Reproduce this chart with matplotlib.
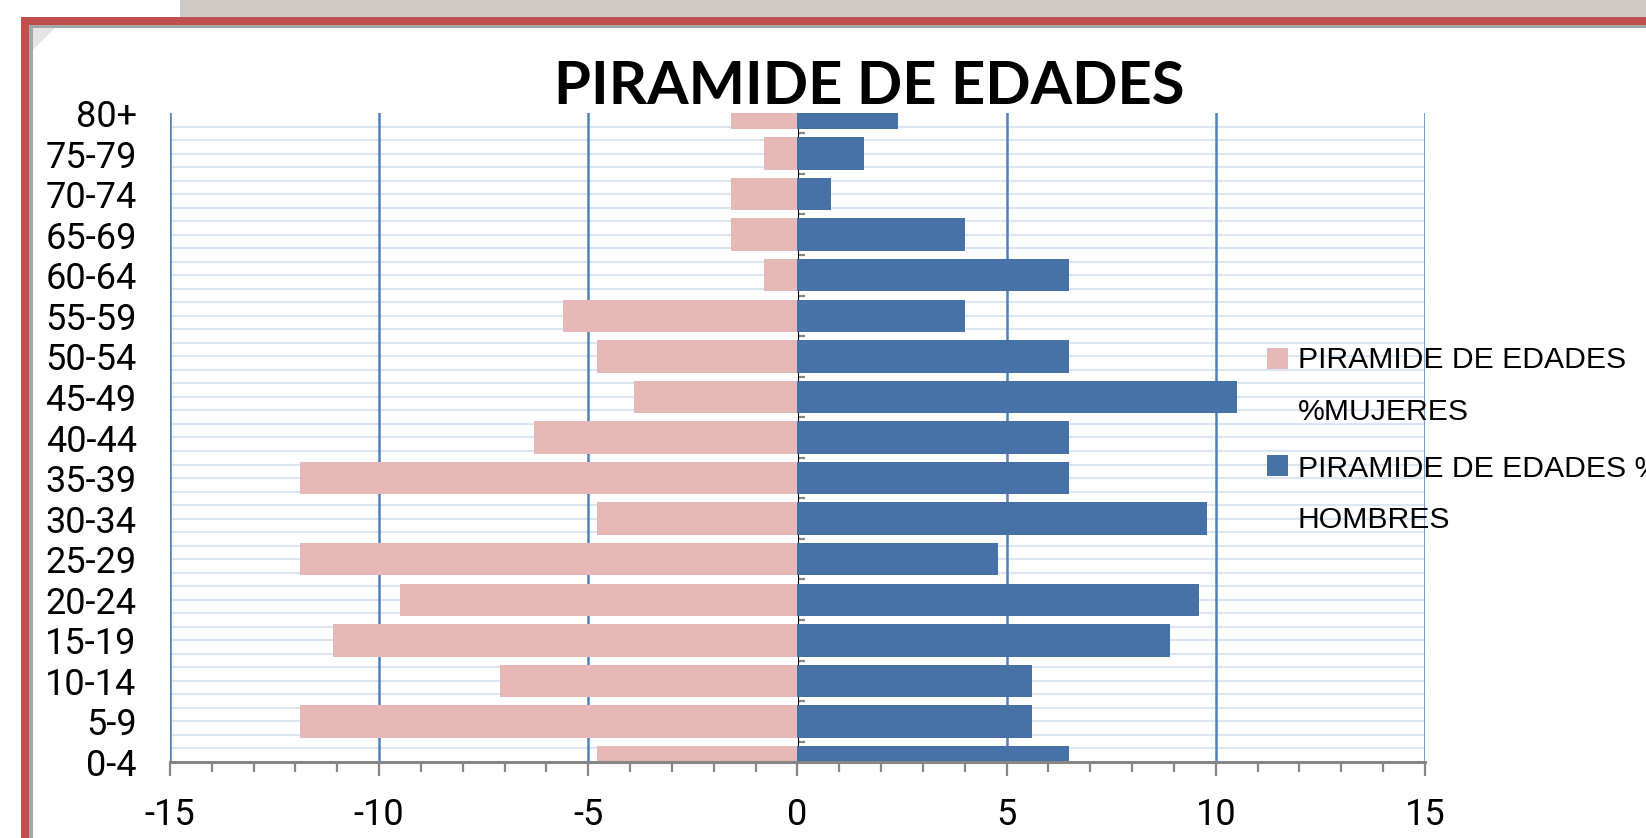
import matplotlib
matplotlib.use("Agg")
import matplotlib.pyplot as plt
from matplotlib.patches import Rectangle, Polygon
import numpy as np

# ---------------- data (bottom to top) ----------------
age_groups = ['0-4', '5-9', '10-14', '15-19', '20-24', '25-29', '30-34', '35-39',
              '40-44', '45-49', '50-54', '55-59', '60-64', '65-69', '70-74', '75-79', '80+']
mujeres = [4.8, 11.9, 7.1, 11.1, 9.5, 11.9, 4.8, 11.9, 6.3, 3.9, 4.8, 5.6, 0.8, 1.6, 1.6, 0.8, 1.6]
hombres = [6.5, 5.6, 5.6, 8.9, 9.6, 4.8, 9.8, 6.5, 6.5, 10.5, 6.5, 4.0, 6.5, 4.0, 0.8, 1.6, 2.4]
x_ticks = [-15, -10, -5, 0, 5, 10, 15]
x_tick_labels = ['-15', '-10', '-5', '0', '5', '10', '15']
title = 'PIRAMIDE DE EDADES'
legend_mujeres = ['PIRAMIDE DE EDADES', '%MUJERES']
legend_hombres = ['PIRAMIDE DE EDADES %', 'HOMBRES']

PINK = '#E6B8B7'
BLUE = '#4672A8'
GRID_V = '#4F81BD'
GRID_H = '#DCE6F2'
AXIS_GRAY = '#868686'
TICKFONT = ['Roboto', 'DejaVu Sans']
TITLEFONT = ['Lato', 'DejaVu Sans']
REG = ['Liberation Sans', 'DejaVu Sans']

W, H = 1646, 838
fig = plt.figure(figsize=(W / 100, H / 100), dpi=100)
fig.patch.set_facecolor('white')


def px_rect(x0, y0, w, h, color, z=0):
    fig.add_artist(Rectangle((x0 / W, 1 - (y0 + h) / H), w / W, h / H,
                             transform=fig.transFigure, facecolor=color,
                             edgecolor='none', zorder=z))


# frame decorations (screenshot border)
px_rect(180, 0, W - 180, 17, '#D0CBC6')
px_rect(21, 17, W - 21, 8, '#C0504D')
px_rect(21, 17, 8, H - 17, '#C0504D')
px_rect(29, 25, W - 29, 3, '#A6A6A6')
px_rect(29, 25, 4, H - 25, '#A6A6A6')
fig.add_artist(Polygon([(33 / W, 1 - 28 / H), (55 / W, 1 - 28 / H), (33 / W, 1 - 50 / H)],
                       closed=True, transform=fig.transFigure,
                       facecolor='#E4E4E4', edgecolor='none'))

left, right = 170, 1425
top, bottom = 113, 762
ax = fig.add_axes([left / W, 1 - bottom / H, (right - left) / W, (bottom - top) / H])
ax.set_facecolor('none')

y = np.arange(len(age_groups))
ax.barh(y, [-v for v in mujeres], height=0.8, color=PINK, zorder=3,
        label=' '.join(legend_mujeres))
ax.barh(y, hombres, height=0.8, color=BLUE, zorder=3,
        label=' '.join(legend_hombres))

ax.set_xlim(x_ticks[0], x_ticks[-1])
ax.set_ylim(0, len(age_groups) - 1)

# horizontal light gridlines every third of a category
for g in np.arange(1, 3 * (len(age_groups) - 1)) / 3:
    ax.axhline(g, color=GRID_H, lw=1.5, zorder=1)
# vertical major gridlines
for xv in x_ticks:
    if xv != 0:
        ax.axvline(xv, color=GRID_V, lw=1.8, zorder=2)

for s in ['top', 'right', 'left']:
    ax.spines[s].set_visible(False)
ax.spines['bottom'].set_color(AXIS_GRAY)
ax.spines['bottom'].set_linewidth(2.2)
ax.spines['bottom'].set_zorder(5)

ax.set_xticks(x_ticks)
ax.set_xticklabels(x_tick_labels, family=TICKFONT, fontsize=26)
ax.set_xticks(np.arange(x_ticks[0], x_ticks[-1] + 1, 1), minor=True)
ax.tick_params(axis='x', which='major', length=10, width=1.6, color=AXIS_GRAY, pad=15)
ax.tick_params(axis='x', which='minor', length=7, width=1.6, color=AXIS_GRAY)

ax.set_yticks(y)
ax.set_yticklabels(age_groups, family=TICKFONT, fontsize=26)
ax.tick_params(axis='y', which='both', length=0, pad=24)

# vertical category axis at x = 0
sec = ax.secondary_yaxis(0.5)
sec.spines['left'].set_color(AXIS_GRAY)
sec.spines['left'].set_linewidth(2.2)
sec.set_yticks(np.arange(0.5, len(age_groups) - 1, 1))
sec.set_yticklabels([])
sec.tick_params(axis='y', length=5, width=1.6, color=AXIS_GRAY)

# title
fig.text(869 / W, 1 - 104 / H, title, ha='center', va='baseline',
         fontsize=43, fontweight='bold', family=TITLEFONT)

# legend (manual, matching Excel layout)
px_rect(1267, 348, 21, 21, PINK, z=6)
px_rect(1267, 455, 21, 21, BLUE, z=6)
for lines, baselines in [(legend_mujeres, [368, 420]), (legend_hombres, [477, 528])]:
    for txt, bl in zip(lines, baselines):
        fig.text(1298 / W, 1 - bl / H, txt, ha='left', va='baseline',
                 fontsize=21.7, family=REG, zorder=6)

fig.savefig('out.png', dpi=100)
